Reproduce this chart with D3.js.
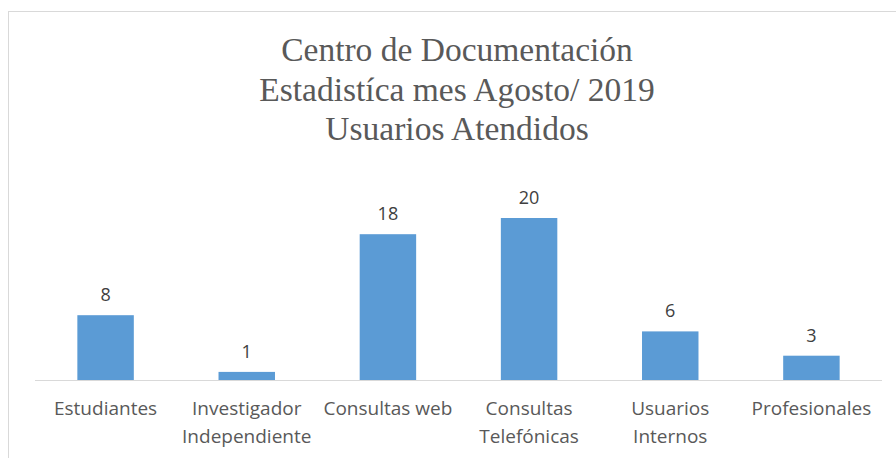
<!DOCTYPE html>
<html>
<head>
<meta charset="utf-8">
<script src="https://cdn.jsdelivr.net/npm/d3@7"></script>
<style>
  body { margin: 0; background: #fff; }
</style>
</head>
<body>
<div id="chart"></div>
<script>
// DATA //
const categories = [
  ["Estudiantes"],
  ["Investigador", "Independiente"],
  ["Consultas web"],
  ["Consultas", "Telefónicas"],
  ["Usuarios", "Internos"],
  ["Profesionales"]
];
const values = [8, 1, 18, 20, 6, 3];
const titleLines = ["Centro de Documentación", "Estadistíca mes Agosto/ 2019", "Usuarios Atendidos"];

const W = 896, H = 458;
const baseY = 380;

const svg = d3.select("#chart").append("svg")
    .attr("width", W)
    .attr("height", H);

// chart area border (runs off the right/bottom edge)
svg.append("rect")
    .attr("x", 8.5).attr("y", 11.5)
    .attr("width", 950).attr("height", 500)
    .attr("fill", "#fff")
    .attr("stroke", "#d9d9d9");

// title
svg.append("g").selectAll("text")
    .data(titleLines)
    .enter().append("text")
    .attr("x", 457)
    .attr("y", (d, i) => 61 + i * 39.5)
    .attr("text-anchor", "middle")
    .style("font-family", "'Liberation Serif', serif")
    .style("font-size", "33.5px")
    .style("fill", "#595959")
    .text(d => d);

// scales
const keys = categories.map(c => c.join(" "));
const x = d3.scaleBand()
    .domain(keys)
    .range([35, 882])
    .paddingInner(0.6)
    .paddingOuter(0.3);

const y = d3.scaleLinear()
    .domain([0, 20])
    .range([baseY, 218]);

// bars
svg.append("g").selectAll("rect")
    .data(values)
    .enter().append("rect")
    .attr("x", (d, i) => x(keys[i]))
    .attr("y", d => y(d))
    .attr("width", x.bandwidth())
    .attr("height", d => baseY - y(d))
    .attr("fill", "#5b9bd5");

// x axis line
svg.append("g")
    .attr("transform", "translate(0," + baseY + ")")
    .call(d3.axisBottom(x).tickSize(0).tickFormat(""))
    .call(g => g.select(".domain").attr("stroke", "#d9d9d9").attr("d", "M35,0.5H882"));

// value labels
svg.append("g").selectAll("text")
    .data(values)
    .enter().append("text")
    .attr("x", (d, i) => x(keys[i]) + x.bandwidth() / 2)
    .attr("y", d => y(d) - 14)
    .attr("text-anchor", "middle")
    .style("font-family", "'Open Sans', sans-serif")
    .style("font-size", "18px")
    .style("fill", "#404040")
    .text(d => d);

// category labels
const labels = svg.append("g").selectAll("text")
    .data(categories)
    .enter().append("text")
    .attr("x", (d, i) => x(keys[i]) + x.bandwidth() / 2)
    .attr("y", 415)
    .attr("text-anchor", "middle")
    .style("font-family", "'Open Sans', sans-serif")
    .style("font-size", "19px")
    .style("fill", "#595959");

labels.selectAll("tspan")
    .data(d => d)
    .enter().append("tspan")
    .attr("x", function () { return d3.select(this.parentNode).attr("x"); })
    .attr("dy", (d, i) => i === 0 ? 0 : 28)
    .text(d => d);
</script>
</body>
</html>
